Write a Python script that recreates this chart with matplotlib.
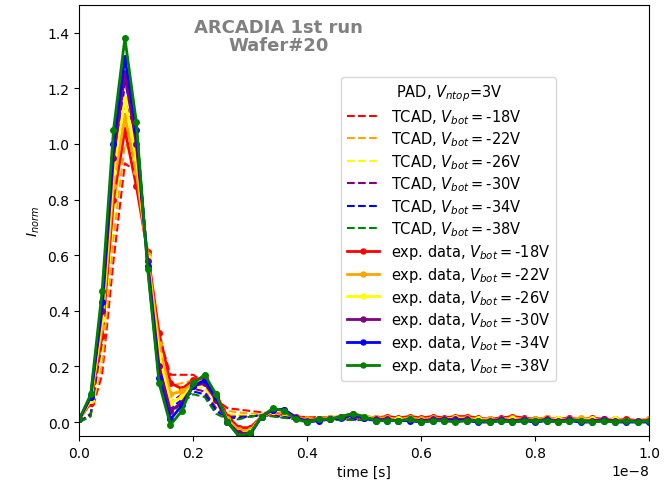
import numpy as np
import matplotlib.pyplot as plt

# bias voltages and colours
vbot = [-18, -22, -26, -30, -34, -38]
colors = ["red", "orange", "yellow", "purple", "blue", "green"]

# time grid in units of 1e-8 s
t_exp = np.round(np.arange(0, 1.0001, 0.02), 2)
t_tcad = [0.0, 0.02, 0.04, 0.06, 0.08, 0.10, 0.12, 0.14, 0.16, 0.18, 0.20,
          0.22, 0.24, 0.26, 0.28, 0.30, 0.32, 0.34, 0.36, 0.38, 0.40,
          0.45, 0.50, 0.60, 0.70, 0.80, 0.90, 1.00]

# TCAD simulation
tcad = {
    -18: [0.0, 0.03, 0.17, 0.58, 0.93, 0.90, 0.61, 0.31, 0.17, 0.17, 0.17,
          0.14, 0.08, 0.05, 0.045, 0.04, 0.035, 0.03, 0.025, 0.02, 0.018,
          0.016, 0.014, 0.012, 0.01, 0.009, 0.008, 0.007],
    -22: [0.0, 0.03, 0.21, 0.66, 1.00, 0.95, 0.60, 0.27, 0.13, 0.14, 0.15,
          0.13, 0.07, 0.04, 0.035, 0.03, 0.03, 0.028, 0.022, 0.018, 0.016,
          0.014, 0.012, 0.011, 0.009, 0.008, 0.007, 0.006],
    -26: [0.0, 0.03, 0.25, 0.74, 1.07, 1.00, 0.60, 0.24, 0.10, 0.12, 0.13,
          0.12, 0.06, 0.03, 0.025, 0.025, 0.025, 0.025, 0.02, 0.016, 0.014,
          0.013, 0.011, 0.01, 0.008, 0.007, 0.006, 0.005],
    -30: [0.0, 0.03, 0.29, 0.81, 1.15, 1.04, 0.58, 0.21, 0.07, 0.10, 0.12,
          0.11, 0.05, 0.02, 0.02, 0.02, 0.025, 0.024, 0.018, 0.014, 0.012,
          0.011, 0.01, 0.009, 0.007, 0.006, 0.005, 0.005],
    -34: [0.0, 0.025, 0.33, 0.87, 1.22, 1.07, 0.57, 0.18, 0.05, 0.08, 0.11,
          0.10, 0.04, 0.015, 0.015, 0.02, 0.025, 0.022, 0.016, 0.012, 0.01,
          0.01, 0.009, 0.008, 0.006, 0.005, 0.004, 0.004],
    -38: [0.0, 0.02, 0.36, 0.92, 1.27, 1.08, 0.56, 0.16, 0.03, 0.07, 0.10,
          0.09, 0.03, 0.01, 0.01, 0.02, 0.025, 0.02, 0.015, 0.01, 0.008,
          0.008, 0.007, 0.006, 0.005, 0.004, 0.004, 0.003],
}

# measured data
exp = {
    -18: [0.01, 0.07, 0.31, 0.80, 1.05, 0.85, 0.61, 0.32, 0.14, 0.12, 0.15,
          0.16, 0.10, 0.02, -0.02, -0.02, 0.02, 0.035, 0.04, 0.02, 0.01,
          0.01, 0.015, 0.02, 0.025, 0.02, 0.015, 0.02, 0.015, 0.02, 0.015,
          0.02, 0.015, 0.02, 0.02, 0.015, 0.01, 0.015, 0.02, 0.015, 0.01,
          0.015, 0.01, 0.015, 0.01, 0.015, 0.01, 0.01, 0.01, 0.005, 0.01],
    -22: [0.01, 0.08, 0.34, 0.85, 1.10, 0.90, 0.60, 0.28, 0.10, 0.11, 0.14,
          0.15, 0.09, 0.01, -0.03, -0.03, 0.02, 0.04, 0.04, 0.015, 0.01,
          0.01, 0.015, 0.02, 0.03, 0.02, 0.015, 0.015, 0.01, 0.015, 0.01,
          0.015, 0.01, 0.015, 0.015, 0.01, 0.01, 0.01, 0.015, 0.01, 0.01,
          0.015, 0.01, 0.01, 0.015, 0.01, 0.01, 0.01, 0.005, 0.005, 0.01],
    -26: [0.01, 0.08, 0.37, 0.90, 1.16, 0.95, 0.59, 0.24, 0.07, 0.09, 0.13,
          0.14, 0.08, 0.0, -0.04, -0.035, 0.02, 0.04, 0.04, 0.015, 0.005,
          0.01, 0.01, 0.02, 0.03, 0.02, 0.01, 0.01, 0.01, 0.01, 0.005,
          0.01, 0.01, 0.015, 0.01, 0.01, 0.005, 0.01, 0.01, 0.01, 0.005,
          0.01, 0.01, 0.01, 0.005, 0.01, 0.005, 0.01, 0.005, 0.005, 0.005],
    -30: [0.01, 0.09, 0.40, 0.95, 1.25, 1.00, 0.58, 0.20, 0.04, 0.07, 0.13,
          0.14, 0.08, 0.0, -0.04, -0.04, 0.02, 0.045, 0.045, 0.015, 0.005,
          0.01, 0.01, 0.02, 0.03, 0.015, 0.01, 0.01, 0.005, 0.01, 0.005,
          0.01, 0.01, 0.01, 0.01, 0.005, 0.005, 0.01, 0.005, 0.01, 0.005,
          0.01, 0.005, 0.01, 0.005, 0.005, 0.01, 0.005, 0.005, 0.005, 0.005],
    -34: [0.01, 0.09, 0.43, 1.00, 1.31, 1.05, 0.56, 0.16, 0.01, 0.06, 0.13,
          0.15, 0.09, 0.0, -0.05, -0.045, 0.02, 0.045, 0.045, 0.015, 0.0,
          0.005, 0.01, 0.015, 0.025, 0.015, 0.005, 0.005, 0.005, 0.005, 0.0,
          0.005, 0.005, 0.005, 0.005, 0.0, 0.0, 0.005, 0.0, 0.005, 0.0,
          0.005, 0.0, 0.005, 0.0, 0.0, 0.005, 0.0, 0.0, 0.0, 0.0],
    -38: [0.01, 0.10, 0.47, 1.05, 1.38, 1.08, 0.55, 0.14, -0.01, 0.04, 0.14,
          0.17, 0.10, 0.0, -0.05, -0.04, 0.02, 0.05, 0.04, 0.01, 0.0,
          0.01, 0.01, 0.02, 0.03, 0.02, 0.005, 0.005, 0.005, 0.01, 0.0,
          0.005, 0.005, 0.0, 0.005, 0.005, 0.0, 0.005, 0.0, 0.005, 0.005,
          0.005, 0.0, 0.005, 0.005, 0.0, 0.005, 0.0, 0.005, 0.0, 0.005],
}

fig, ax = plt.subplots(figsize=(6.72, 4.85), dpi=100)

for v, c in zip(vbot, colors):
    ax.plot(np.array(t_tcad) * 1e-8, tcad[v], "--", color=c, lw=1.5,
            label=r"TCAD, $V_{bot}=$" + f"{v}V")
for v, c in zip(vbot, colors):
    ax.plot(t_exp * 1e-8, exp[v], "-o", color=c, lw=2, ms=4,
            label=r"exp. data, $V_{bot}=$" + f"{v}V")

ax.set_xlim(0, 1e-8)
ax.set_ylim(-0.05, 1.5)
ax.set_xlabel("time [s]")
ax.set_ylabel(r"$I_{norm}$")

ax.text(0.349, 0.97, "ARCADIA 1st run\nWafer#20", transform=ax.transAxes,
        ha="center", va="top", fontsize=13, fontweight="bold", color="gray",
        linespacing=1.0)

ax.legend(title=r"PAD, $V_{ntop}$=3V", loc="upper right",
          bbox_to_anchor=(0.837, 0.833), borderaxespad=0,
          fontsize=10.5, title_fontsize=10.5, labelspacing=0.26,
          handlelength=2.2, markerscale=0.9)

fig.subplots_adjust(left=0.118, right=0.966, top=0.988, bottom=0.099)
fig.savefig("out.png", dpi=100)
